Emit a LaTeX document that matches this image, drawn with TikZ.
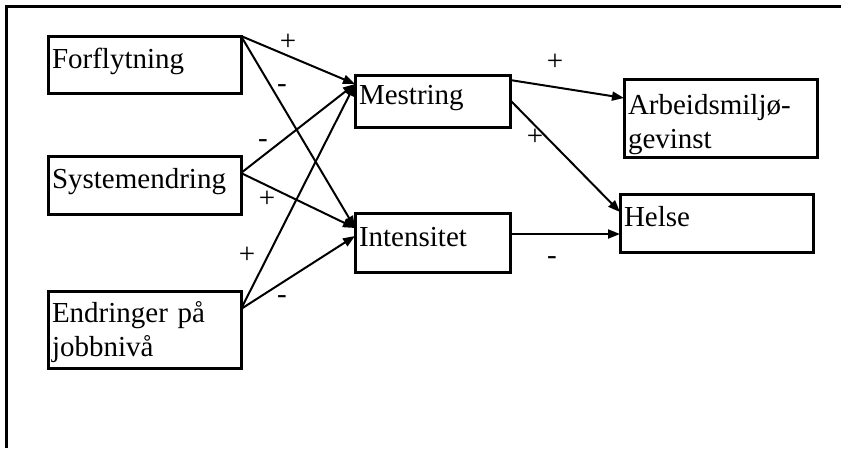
\documentclass[tikz,border=0pt]{standalone}
\usepackage{fontspec}
\setmainfont{Liberation Serif}
\usetikzlibrary{arrows.meta,positioning}
\tikzset{>={Triangle[length=12pt,width=9pt]}}
\newcommand\diagfont{\fontsize{29pt}{34pt}\selectfont}
\newcommand\topgap[1]{\rule{0pt}{#1}}
\tikzset{
  box/.style={draw, line width=3pt, anchor=north west, align=left,
    inner xsep=4pt, inner ysep=0pt, outer sep=0pt},
  wide/.style={text width=185pt},
  narrow/.style={text width=147pt},
  oneline/.style={text height=20pt, text depth=13pt, minimum height=#1},
  link/.style={->, line width=2pt},
  sign/.style={anchor=base, inner sep=0pt}
}

\begin{document}
\begin{tikzpicture}[x=1pt, y=-1pt, every node/.style={font=\diagfont}]

  \useasboundingbox (0,0) rectangle (841,448);
  \draw[line width=3pt] (6,448) -- (6,6) -- (841,6);

  % causes
  \node[box, wide, oneline=57pt] (forf) at (48,36) {Forflytning};
  \node[box, wide, oneline=58pt] (syst) at (48,156) {Systemendring};
  \node[box, wide, minimum height=77pt] (endr) at (48,291) {\topgap{27pt}Endringer på\\jobbnivå};

  % mediators
  \node[box, narrow, oneline=52pt] (mest) at (355,75) {Mestring};
  \node[box, narrow, oneline=59pt] (inte) at (355,213) {Intensitet};

  % outcomes
  \node[box, wide, minimum height=78pt] (arbe) at (624,79) {\topgap{34pt}Arbeidsmiljø-\\gevinst};
  \node[box, wide, oneline=58pt] (hels) at (620,194) {Helse};

  \draw[link] (forf.north east) -- ([yshift=-9pt]mest.north west);
  \draw[link] (forf.north east) -- ([yshift=-15pt]inte.north west);
  \draw[link] ([yshift=-17pt]syst.north east) -- ([yshift=-9pt]mest.north west);
  \draw[link] ([yshift=-17pt]syst.north east) -- ([yshift=-15pt]inte.north west);
  \draw[link] ([yshift=-18pt]endr.north east) -- ([yshift=-9pt]mest.north west);
  \draw[link] ([yshift=-18pt]endr.north east) -- ([yshift=-23pt]inte.north west);

  \draw[link] ([yshift=-5pt]mest.north east) -- ([yshift=-19pt]arbe.north west);
  \draw[link] ([yshift=-25pt]mest.north east) -- ([yshift=-18pt]hels.north west);
  \draw[link] ([yshift=-21pt]inte.north east) -- ([yshift=-40pt]hels.north west);

  % signs
  \node[sign] (s1) at (288,50) {+};
  \node[sign] (s2) at (282,92) {-};
  \node[sign] (s3) at (263,147) {-};
  \node[sign] (s4) at (267,207) {+};
  \node[sign] (s5) at (247,263) {+};
  \node[sign] (s6) at (282,303) {-};
  \node[sign] (s7) at (555,70) {+};
  \node[sign] (s8) at (535,145) {+};
  \node[sign] (s9) at (552,264) {-};

\end{tikzpicture}
\end{document}
